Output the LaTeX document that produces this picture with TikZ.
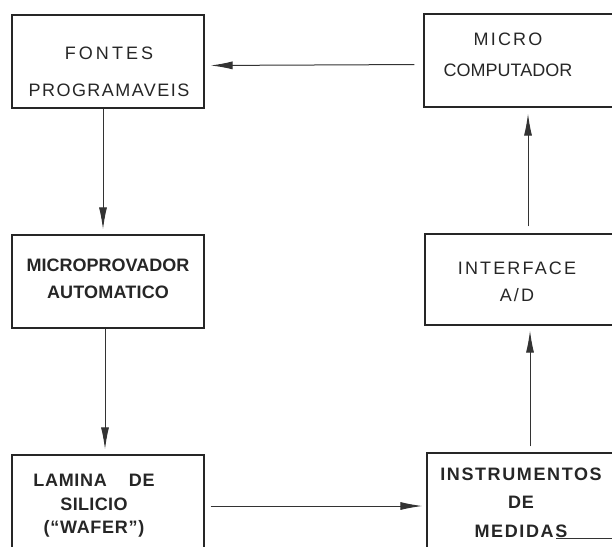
\documentclass[tikz,border=0pt]{standalone}
\usepackage{fontspec}
\setmainfont{Liberation Sans}
\usetikzlibrary{arrows.meta}
% letter-spaced stencil-like lettering
\newcommand\trk[2]{{\addfontfeature{LetterSpace=#1}#2}}

\begin{document}
\begin{tikzpicture}[x=1pt,y=-1pt,
  blockbox/.style={draw=black!85, line width=1.3pt, inner sep=0pt,
    minimum width=192pt, minimum height=93pt},
  lettering/.style={inner sep=0pt, align=center, text=black!85},
  flow/.style={draw=black!80, line width=1pt,
    -{Latex[length=22pt,width=8pt]}},
]
\useasboundingbox (0,0) rectangle (612,546);

% blocks
\node[blockbox] (fp) at (108,61.5) {};
\node[blockbox, minimum width=194pt] (mc) at (521,60.5) {};
\node[blockbox] (mp) at (108,281.5) {};
\node[blockbox, minimum height=91pt] (ad) at (521,279.5) {};
\node[blockbox, minimum height=96pt] (lw) at (108,503) {};
\node[blockbox, minimum height=98pt] (im) at (523,502) {};

% block texts
\node[lettering, font={\fontsize{18}{37}\selectfont}] (fpt) at (109,71.5)
  {\trk{17}{FONTES}\\\trk{8}{PROGRAMAVEIS}};
\node[lettering, font={\fontsize{18}{31}\selectfont}] (mct) at (508,54.5)
  {\trk{12}{MICRO}\\\trk{0}{COMPUTADOR}};
\node[lettering, font={\fontsize{18}{27}\selectfont\bfseries}] (mpt) at (108,278.5)
  {\trk{0}{MICROPROVADOR}\\\trk{1}{AUTOMATICO}};
\node[lettering, font={\fontsize{18}{27}\selectfont}] (adt) at (517,281.5)
  {\trk{12}{INTERFACE}\\\trk{12}{A/D}};
\node[lettering, font={\fontsize{18}{23.5}\selectfont\bfseries}] (lwt) at (94,506)
  {\trk{4}{LAMINA}\hspace{22pt}\trk{4}{DE}\\\trk{2}{SILICIO}\\\trk{4}{(``WAFER'')}};
\node[lettering, font={\fontsize{18}{28.5}\selectfont\bfseries}] (imt) at (521,502.5)
  {\trk{9}{INSTRUMENTOS}\\\trk{5}{DE}\\\trk{9}{MEDIDAS}};

% connectors
\draw[flow, shorten <=9pt, shorten >=6pt] ([yshift=-4pt]mc.west) -- ([yshift=-4pt]fp.east);
\draw[flow, shorten >=5pt] ([xshift=-5pt]fp.south) -- ([xshift=-5pt]mp.north);
\draw[flow, shorten >=5pt] ([xshift=-3pt]mp.south) -- ([xshift=-3pt]lw.north);
\draw[flow, shorten <=6pt, shorten >=4pt] ([yshift=-3pt]lw.east) -- ([yshift=-4pt]im.west);
\draw[flow, shorten <=6pt, shorten >=5pt] ([xshift=7pt]im.north) -- ([xshift=9pt]ad.south);
\draw[flow, shorten <=7pt, shorten >=6pt] ([xshift=7pt]ad.north) -- ([xshift=7pt]mc.south);

% short rule at the lower right
\draw[draw=black!80, line width=1pt] (556,538) -- (612,538);
\end{tikzpicture}
\end{document}
